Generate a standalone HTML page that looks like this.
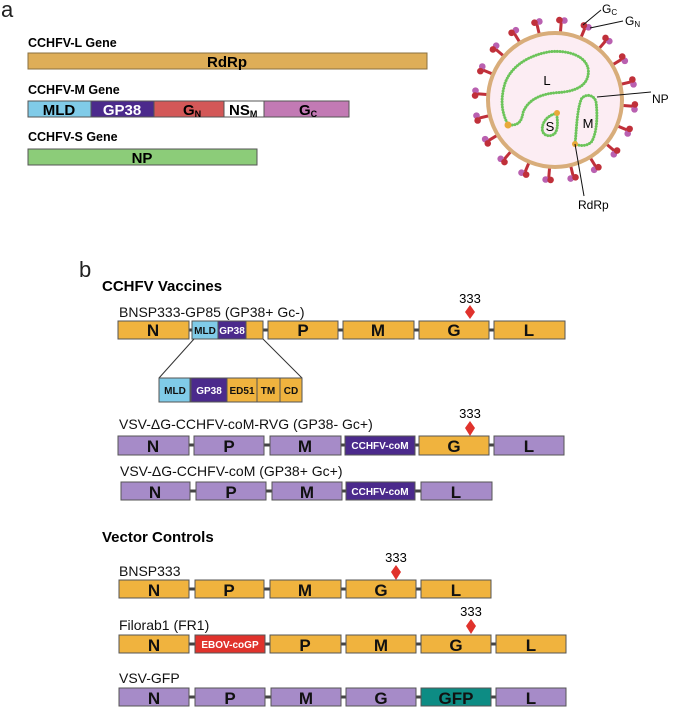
<!DOCTYPE html>
<html><head><meta charset="utf-8"><style>
html,body{margin:0;padding:0;background:#fff}
svg{display:block}
text{font-family:"Liberation Sans",Arial,sans-serif}
.b{font-weight:bold}
.lbl{font-size:14px;fill:#111}
.bx{stroke:#555;stroke-width:1}
.g{font-weight:bold;font-size:17px;fill:#111;text-anchor:middle}
.w{font-weight:bold;font-size:10px;fill:#fff;text-anchor:middle}
.k{font-weight:bold;font-size:10px;fill:#111;text-anchor:middle}
.ln{stroke:#444;stroke-width:3}
.O{fill:#f0b33e}.P{fill:#a68bc8}.D{fill:#4b2a8c}
</style></head><body>
<svg width="673" height="707" viewBox="0 0 673 707" xmlns="http://www.w3.org/2000/svg">
<text x="1" y="17" font-size="22" fill="#222">a</text>
<text x="28" y="47" class="b" font-size="12.5">CCHFV-L Gene</text>
<rect x="28" y="53" width="399" height="16" fill="#deae58" stroke="#8a7040"/>
<text x="227" y="67" class="b" font-size="15" text-anchor="middle">RdRp</text>
<text x="28" y="94" class="b" font-size="12.5">CCHFV-M Gene</text>
<rect x="28" y="101" width="63" height="16" fill="#80cbe8" stroke="#555"/>
<rect x="91" y="101" width="63" height="16" fill="#4b2a8c" stroke="#555"/>
<rect x="154" y="101" width="70" height="16" fill="#d35858" stroke="#555"/>
<rect x="224" y="101" width="40" height="16" fill="#fff" stroke="#555"/>
<rect x="264" y="101" width="85" height="16" fill="#c27ab4" stroke="#555"/>
<text x="59" y="115" class="b" font-size="15" text-anchor="middle">MLD</text>
<text x="122" y="115" class="b" font-size="15" text-anchor="middle" fill="#fff">GP38</text>
<text x="183" y="115" class="b" font-size="15">G<tspan font-size="9" dy="2">N</tspan></text>
<text x="229" y="115" class="b" font-size="15">NS<tspan font-size="9" dy="2">M</tspan></text>
<text x="299" y="115" class="b" font-size="15">G<tspan font-size="9" dy="2">C</tspan></text>
<text x="28" y="141" class="b" font-size="12.5">CCHFV-S Gene</text>
<rect x="28" y="149" width="229" height="16" fill="#8ccc79" stroke="#555"/>
<text x="142" y="163" class="b" font-size="15" text-anchor="middle">NP</text>

<!-- virus -->
<g id="spikes"></g>
<circle cx="555" cy="100" r="67" fill="#fcedf3" stroke="#d8ad7a" stroke-width="4"/>
<g transform="translate(440,0) scale(0.3333)" fill="none" stroke="#6cc45a" stroke-width="9" stroke-dasharray="0.1 8" stroke-linecap="round">
<path d="M205,375 C185,340 180,300 195,250 C215,195 270,165 330,155 C390,150 440,170 445,210 C448,255 410,275 350,278 C300,282 265,300 250,335 C245,360 240,378 205,375"/>
<path d="M350,340 C325,345 305,365 307,390 C310,412 340,412 348,395 C355,378 352,360 350,340"/>
<path d="M405,432 C410,390 410,330 425,295 C440,280 462,285 468,305 C474,350 470,400 455,425 C440,440 420,438 405,432"/>
</g>
<g stroke="#6cc45a" stroke-width="1.6" fill="none" transform="translate(440,0) scale(0.3333)">
<path d="M205,375 C185,340 180,300 195,250 C215,195 270,165 330,155 C390,150 440,170 445,210 C448,255 410,275 350,278 C300,282 265,300 250,335 C245,360 240,378 205,375"/>
<path d="M350,340 C325,345 305,365 307,390 C310,412 340,412 348,395 C355,378 352,360 350,340"/>
<path d="M405,432 C410,390 410,330 425,295 C440,280 462,285 468,305 C474,350 470,400 455,425 C440,440 420,438 405,432"/>
</g>
<circle cx="508" cy="125" r="3.5" fill="#e8a93a"/>
<circle cx="557" cy="113" r="3" fill="#e8a93a"/>
<circle cx="575" cy="144" r="3" fill="#e8a93a"/>
<text x="547" y="85" font-size="13" text-anchor="middle">L</text>
<text x="550" y="131" font-size="13" text-anchor="middle">S</text>
<text x="588" y="128" font-size="13" text-anchor="middle">M</text>
<g stroke="#111" stroke-width="1" fill="none">
<line x1="583" y1="25" x2="601" y2="10"/>
<line x1="590" y1="28" x2="623" y2="21"/>
<line x1="597" y1="97" x2="651" y2="92"/>
<line x1="575" y1="144" x2="584" y2="196"/>
</g>
<text x="602" y="13" font-size="12">G<tspan font-size="8" dy="2">C</tspan></text>
<text x="625" y="25" font-size="12">G<tspan font-size="8" dy="2">N</tspan></text>
<text x="652" y="103" font-size="12">NP</text>
<text x="578" y="209" font-size="12">RdRp</text>

<!-- b -->
<text x="79" y="277" font-size="22" fill="#222">b</text>
<text x="102" y="291" class="b" font-size="15">CCHFV Vaccines</text>
<text x="119" y="317" class="lbl">BNSP333-GP85 (GP38+ Gc-)</text>
<text x="470" y="303" font-size="13" text-anchor="middle">333</text>
<polygon points="470,305 475,312 470,319 465,312" fill="#e0322c"/>
<line x1="118" y1="330" x2="565" y2="330" class="ln"/>
<rect x="118" y="321" width="71" height="18" class="bx O"/>
<rect x="192" y="321" width="26" height="18" class="bx" fill="#80cbe8"/>
<rect x="218" y="321" width="28" height="18" class="bx D"/>
<rect x="246" y="321" width="17" height="18" class="bx O"/>
<rect x="268" y="321" width="70" height="18" class="bx O"/>
<rect x="343" y="321" width="71" height="18" class="bx O"/>
<rect x="419" y="321" width="70" height="18" class="bx O"/>
<rect x="494" y="321" width="71" height="18" class="bx O"/>
<text x="153" y="336" class="g">N</text>
<text x="205" y="334" class="k" font-size="8.5">MLD</text>
<text x="232" y="334" class="w" font-size="8.5">GP38</text>
<text x="303" y="336" class="g">P</text>
<text x="378" y="336" class="g">M</text>
<text x="454" y="336" class="g">G</text>
<text x="529" y="336" class="g">L</text>
<line x1="194" y1="339" x2="159" y2="378" stroke="#333"/>
<line x1="263" y1="339" x2="302" y2="378" stroke="#333"/>
<rect x="159" y="378" width="31" height="24" class="bx" fill="#80cbe8"/>
<rect x="191" y="378" width="36" height="24" class="bx D"/>
<rect x="227" y="378" width="30" height="24" class="bx O"/>
<rect x="257" y="378" width="23" height="24" class="bx O"/>
<rect x="280" y="378" width="22" height="24" class="bx O"/>
<text x="175" y="394" class="k">MLD</text>
<text x="209" y="394" class="w">GP38</text>
<text x="242" y="394" class="k">ED51</text>
<text x="268" y="394" class="k">TM</text>
<text x="291" y="394" class="k">CD</text>

<text x="119" y="429" class="lbl">VSV-ΔG-CCHFV-coM-RVG (GP38- Gc+)</text>
<text x="470" y="418" font-size="13" text-anchor="middle">333</text>
<polygon points="470,421 475,428 470,436 465,428" fill="#e0322c"/>
<line x1="118" y1="445" x2="564" y2="445" class="ln"/>
<rect x="118" y="436" width="71" height="19" class="bx P"/>
<rect x="194" y="436" width="70" height="19" class="bx P"/>
<rect x="270" y="436" width="71" height="19" class="bx P"/>
<rect x="345" y="436" width="70" height="19" class="bx D"/>
<rect x="419" y="436" width="70" height="19" class="bx O"/>
<rect x="494" y="436" width="70" height="19" class="bx P"/>
<text x="153" y="452" class="g">N</text><text x="229" y="452" class="g">P</text><text x="305" y="452" class="g">M</text>
<text x="380" y="449" class="w">CCHFV-coM</text><text x="454" y="452" class="g">G</text><text x="529" y="452" class="g">L</text>

<text x="120" y="476" class="lbl">VSV-ΔG-CCHFV-coM (GP38+ Gc+)</text>
<line x1="121" y1="491" x2="492" y2="491" class="ln"/>
<rect x="121" y="482" width="69" height="18" class="bx P"/>
<rect x="196" y="482" width="70" height="18" class="bx P"/>
<rect x="272" y="482" width="70" height="18" class="bx P"/>
<rect x="346" y="482" width="69" height="18" class="bx D"/>
<rect x="421" y="482" width="71" height="18" class="bx P"/>
<text x="155" y="498" class="g">N</text><text x="231" y="498" class="g">P</text><text x="307" y="498" class="g">M</text>
<text x="380" y="495" class="w">CCHFV-coM</text><text x="456" y="498" class="g">L</text>

<text x="102" y="542" class="b" font-size="15">Vector Controls</text>
<text x="119" y="576" class="lbl">BNSP333</text>
<text x="396" y="562" font-size="13" text-anchor="middle">333</text>
<polygon points="396,565 401,572 396,580 391,572" fill="#e0322c"/>
<line x1="119" y1="589" x2="491" y2="589" class="ln"/>
<rect x="119" y="580" width="70" height="18" class="bx O"/>
<rect x="195" y="580" width="69" height="18" class="bx O"/>
<rect x="270" y="580" width="71" height="18" class="bx O"/>
<rect x="346" y="580" width="70" height="18" class="bx O"/>
<rect x="421" y="580" width="70" height="18" class="bx O"/>
<text x="154" y="596" class="g">N</text><text x="229" y="596" class="g">P</text><text x="305" y="596" class="g">M</text>
<text x="381" y="596" class="g">G</text><text x="456" y="596" class="g">L</text>

<text x="119" y="630" class="lbl">Filorab1 (FR1)</text>
<text x="471" y="616" font-size="13" text-anchor="middle">333</text>
<polygon points="471,619 476,626 471,634 466,626" fill="#e0322c"/>
<line x1="119" y1="644" x2="566" y2="644" class="ln"/>
<rect x="119" y="635" width="70" height="18" class="bx O"/>
<rect x="195" y="635" width="70" height="18" class="bx" fill="#e0322c"/>
<rect x="270" y="635" width="71" height="18" class="bx O"/>
<rect x="346" y="635" width="70" height="18" class="bx O"/>
<rect x="421" y="635" width="70" height="18" class="bx O"/>
<rect x="496" y="635" width="70" height="18" class="bx O"/>
<text x="154" y="651" class="g">N</text><text x="230" y="648" class="w">EBOV-coGP</text><text x="305" y="651" class="g">P</text>
<text x="381" y="651" class="g">M</text><text x="456" y="651" class="g">G</text><text x="531" y="651" class="g">L</text>

<text x="119" y="683" class="lbl">VSV-GFP</text>
<line x1="119" y1="697" x2="566" y2="697" class="ln"/>
<rect x="119" y="688" width="70" height="18" class="bx P"/>
<rect x="195" y="688" width="70" height="18" class="bx P"/>
<rect x="271" y="688" width="70" height="18" class="bx P"/>
<rect x="346" y="688" width="70" height="18" class="bx P"/>
<rect x="421" y="688" width="70" height="18" class="bx" fill="#0d8c84"/>
<rect x="496" y="688" width="70" height="18" class="bx P"/>
<text x="154" y="704" class="g">N</text><text x="230" y="704" class="g">P</text><text x="306" y="704" class="g">M</text>
<text x="381" y="704" class="g">G</text><text x="456" y="704" class="g">GFP</text><text x="531" y="704" class="g">L</text>
</svg>
<script>
(function(){
var g=document.getElementById('spikes'),ns='http://www.w3.org/2000/svg',cx=555,cy=100,h='';
for(var i=0;i<20;i++){var a=(i/20)*Math.PI*2-Math.PI/2+0.08;var c=Math.cos(a),s=Math.sin(a);
var x1=cx+c*62,y1=cy+s*62,x2=cx+c*80,y2=cy+s*80;var px=-s,py=c;
h+='<line x1="'+x1+'" y1="'+y1+'" x2="'+x2+'" y2="'+y2+'" stroke="#c0303a" stroke-width="3"/>';
h+='<circle cx="'+(x2+px*3)+'" cy="'+(y2+py*3)+'" r="3.3" fill="#b960b0"/>';
h+='<circle cx="'+(x2-px*2)+'" cy="'+(y2-py*2)+'" r="3.3" fill="#c0303a"/>';}
g.innerHTML=h;})();
</script>
</body></html>
